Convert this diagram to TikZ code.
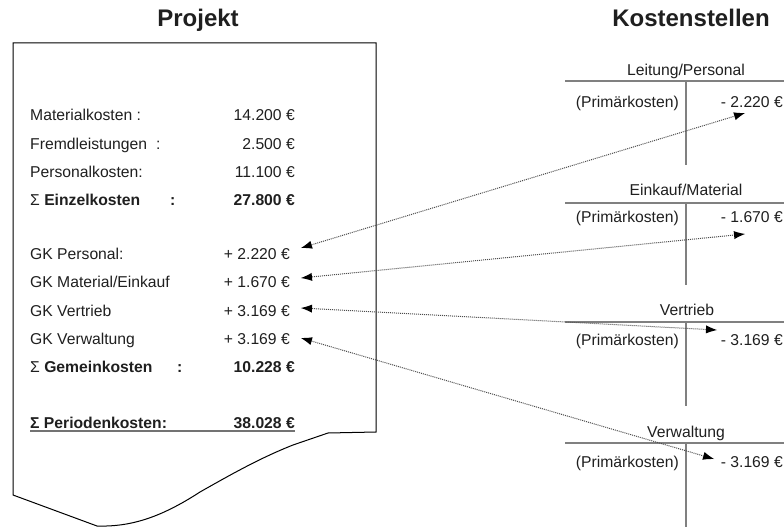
\documentclass[tikz,border=0pt]{standalone}
\usepackage{fontspec}
\setmainfont{Liberation Sans}
\usetikzlibrary{arrows.meta}
\begin{document}
\begin{tikzpicture}[x=1pt,y=-1pt,
  txt/.style={inner sep=0pt, text=black!88, font=\fontsize{15.7}{18}\selectfont},
  lbl/.style={txt, anchor=base west},
  val/.style={txt, anchor=base east},
  hdr/.style={txt, anchor=base},
  ttl/.style={inner sep=0pt, text=black!88, font=\fontsize{24}{28}\selectfont\bfseries, anchor=base},
  tline/.style={draw=black!50, line width=2pt},
  uline/.style={draw=black!55, line width=1.2pt},
  tip/.tip={Latex[length=11pt,width=8pt,color=black,line width=0pt]},
  flow/.style={tip-tip, dash pattern=on 1pt off 1pt, line width=1pt, draw=black!70},
  box/.style={draw=black, line width=1pt}]
\useasboundingbox (0,0) rectangle (784,527);

% titles
\node[ttl] (tproj) at (198,27) {Projekt};
\node[ttl] (tkost) at (691,27) {Kostenstellen};

% project sheet
\draw[box] (13,43) -- (376,43) -- (376,432) -- (328,433) -- (293,445)
  .. controls (260,458) and (230,475) .. (200,492)
  .. controls (160,518) and (130,527) .. (97,526) -- (13,495) -- cycle;

% rows
\node[lbl] (l1) at (30,120) {Materialkosten :};
\node[val] (v1) at (295,120) {14.200 €};
\node[lbl] (l2) at (30,149) {Fremdleistungen\hspace{9pt}:};
\node[val] (v2) at (295,149) {2.500 €};
\node[lbl] (l3) at (30,177) {Personalkosten:};
\node[val] (v3) at (295,177) {11.100 €};
\node[lbl] (l4) at (30,205) {\makebox[140pt][l]{Σ \textbf{Einzelkosten}}\textbf{:}};
\node[val] (v4) at (295,205) {\textbf{27.800 €}};

\node[lbl] (g1) at (30,259) {GK Personal:};
\node[val] (w1) at (290,259) {+ 2.220 €};
\node[lbl] (g2) at (30,287) {GK Material/Einkauf};
\node[val] (w2) at (290,287) {+ 1.670 €};
\node[lbl] (g3) at (30,316) {GK Vertrieb};
\node[val] (w3) at (290,316) {+ 3.169 €};
\node[lbl] (g4) at (30,344) {GK Verwaltung};
\node[val] (w4) at (290,344) {+ 3.169 €};
\node[lbl] (g5) at (30,372) {\makebox[147pt][l]{Σ \textbf{Gemeinkosten}}\textbf{:}};
\node[val] (w5) at (295,372) {\textbf{10.228 €}};

\node[lbl] (pl) at (30,428) {\textbf{Σ Periodenkosten:}};
\node[val] (pv) at (295,428) {\textbf{38.028 €}};
\draw[uline] ([yshift=-3pt]pl.base west) -- ([yshift=-3pt]pv.base east);

% T-accounts
\coordinate (a1) at (565,81);  \coordinate (b1) at (784,81);
\coordinate (c1) at (686,81);  \coordinate (d1) at (686,165);
\coordinate (a2) at (565,203); \coordinate (b2) at (784,203);
\coordinate (c2) at (686,203); \coordinate (d2) at (686,285);
\coordinate (a3) at (565,322); \coordinate (b3) at (784,322);
\coordinate (c3) at (686,322); \coordinate (d3) at (686,406);
\coordinate (a4) at (565,443); \coordinate (b4) at (784,443);
\coordinate (c4) at (686,443); \coordinate (d4) at (686,527);
\foreach \i in {1,2,3,4} {
  \draw[tline] (a\i) -- (b\i);
  \draw[tline] (c\i) -- (d\i);
}

\node[hdr] (h1) at (686,75) {Leitung/Personal};
\node[val] (p1) at (679,107) {(Primärkosten)};
\node[val] (k1) at (783,107) {- 2.220 €};

\node[hdr] (h2) at (686,195) {Einkauf/Material};
\node[val] (p2) at (679,222) {(Primärkosten)};
\node[val] (k2) at (783,222) {- 1.670 €};

\node[hdr] (h3) at (687,315) {Vertrieb};
\node[val] (p3) at (679,345) {(Primärkosten)};
\node[val] (k3) at (783,345) {- 3.169 €};

\node[hdr] (h4) at (686,437) {Verwaltung};
\node[val] (p4) at (679,467) {(Primärkosten)};
\node[val] (k4) at (783,467) {- 3.169 €};

% flows
\coordinate (s1) at (301,248); \coordinate (e1) at (745,113);
\coordinate (s2) at (301,278); \coordinate (e2) at (745,234);
\coordinate (s3) at (301,308); \coordinate (e3) at (717,330);
\coordinate (s4) at (301,338); \coordinate (e4) at (714,459);
\foreach \i in {1,2,3,4} {
  \draw[flow] (s\i) -- (e\i);
}
\end{tikzpicture}
\end{document}
